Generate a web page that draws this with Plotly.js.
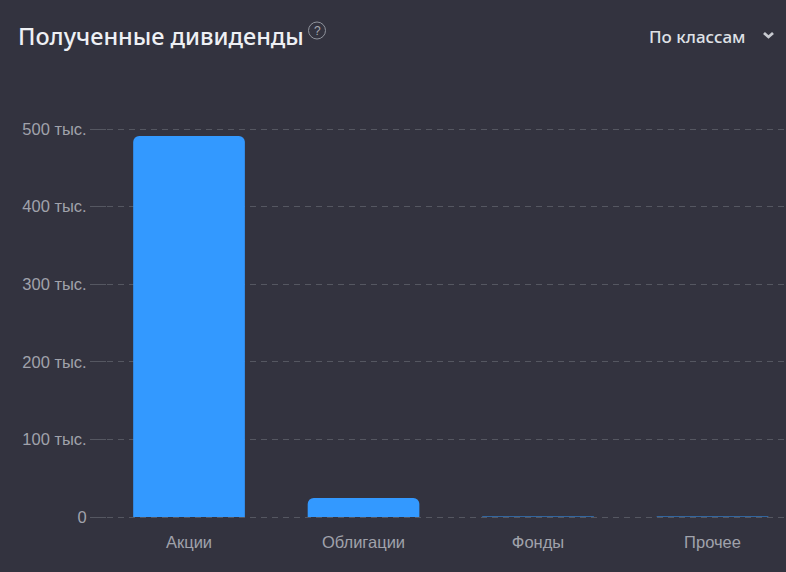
<!DOCTYPE html>
<html>
<head>
<meta charset="utf-8">
<script src="https://cdn.plot.ly/plotly-3.0.1.min.js"></script>
<style>html,body{margin:0;padding:0;background:#33333f;overflow:hidden}</style>
</head>
<body>
<div id="chart" style="width:786px;height:572px"></div>
<script>
const categories = ["Акции", "Облигации", "Фонды", "Прочее"];
const dividends = [491000, 24500, 700, 700];
const yTickValues = [0, 100000, 200000, 300000, 400000, 500000];
const yTickLabels = ["0", "100 тыс.", "200 тыс.", "300 тыс.", "400 тыс.", "500 тыс."];
const chartTitle = "Полученные дивиденды";
const selectorLabel = "По классам";

const W = 786, H = 572;
const mL = 107, mR = 0, mT = 120, mB = 50;
const plotW = W - mL - mR, plotH = H - mT - mB;
const px = x => (x - mL) / plotW, py = y => 1 - (y - mT) / plotH;
const labelFont = {family: "Liberation Sans, Arial, sans-serif", size: 16.5, color: "#a0a2ab"};

Plotly.newPlot("chart", [{
  type: "bar",
  x: categories,
  y: dividends,
  width: 0.64,
  marker: {color: "#3399ff", line: {width: 0}, cornerradius: 6},
  hoverinfo: "skip"
}], {
  width: W, height: H,
  paper_bgcolor: "#33333f",
  plot_bgcolor: "#33333f",
  margin: {l: mL, r: mR, t: mT, b: mB, pad: 0},
  showlegend: false,
  xaxis: {
    type: "category",
    categoryorder: "array",
    categoryarray: categories,
    range: [-0.47, 3.421],
    showgrid: false, zeroline: false, showline: false,
    ticks: "", tickfont: labelFont, ticklabelstandoff: 8
  },
  yaxis: {
    range: [-6443, 511600],
    tickmode: "array",
    tickvals: yTickValues,
    ticktext: yTickLabels,
    tickfont: labelFont,
    ticks: "outside", ticklen: 16, tickwidth: 1, tickcolor: "#555761",
    showgrid: true, gridcolor: "#555761", gridwidth: 1, griddash: "6px,5px",
    zeroline: false, showline: false
  },
  annotations: [
    {xref: "paper", yref: "paper", x: px(16), y: py(36), xanchor: "left", yanchor: "middle", showarrow: false,
     text: chartTitle, font: {family: "Noto Sans, Open Sans, sans-serif", size: 23.5, weight: 500, color: "#eef0f4"}},
    {xref: "paper", yref: "paper", x: px(317), y: py(30.5), xanchor: "center", yanchor: "middle", showarrow: false,
     text: "?", font: {family: "Liberation Sans, sans-serif", size: 12, color: "#a5a8b0"}},
    {xref: "paper", yref: "paper", x: px(647), y: py(36), xanchor: "left", yanchor: "middle", showarrow: false,
     text: selectorLabel, font: {family: "Noto Sans, Open Sans, sans-serif", size: 17, weight: 500, color: "#dfe1e6"}}
  ],
  shapes: [
    {type: "circle", xref: "paper", yref: "paper", x0: px(308.5), x1: px(325.5), y0: py(39), y1: py(22),
     line: {color: "#8f939c", width: 1}},
    {type: "path", xref: "paper", yref: "paper",
     path: `M ${px(764)} ${py(33)} L ${px(768.5)} ${py(37)} L ${px(773)} ${py(33)}`,
     line: {color: "#c8cad0", width: 2.8}}
  ]
}, {displayModeBar: false, staticPlot: true});
</script>
</body>
</html>
